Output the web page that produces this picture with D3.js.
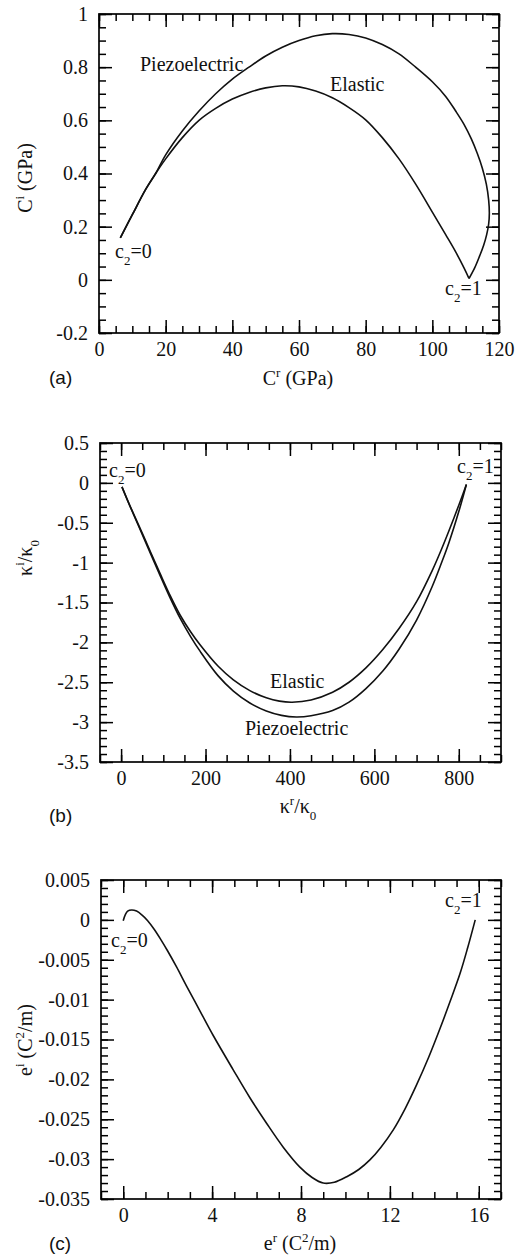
<!DOCTYPE html>
<html>
<head>
<meta charset="utf-8">
<script src="https://cdn.jsdelivr.net/npm/d3@7"></script>
<style>
  body { margin: 0; background: #fff; }
</style>
</head>
<body>
<div id="chart"></div>
<script>
// panel (a): complex stiffness
var aPiezo = [[6.4,0.158],[10,0.245],[14,0.34],[17,0.40],[20,0.47],[25,0.56],[30,0.635],[35,0.70],
  [40,0.755],[45,0.80],[50,0.842],[55,0.875],[60,0.90],[65,0.918],[70,0.926],[75,0.923],[80,0.91],
  [85,0.885],[90,0.85],[95,0.80],[100,0.745],[104,0.69],[107,0.635],[109.5,0.585],[111.7,0.53],
  [113.5,0.475],[115,0.42],[116.2,0.36],[116.9,0.30],[117.1,0.25],[116.9,0.21],[116.3,0.17],
  [115.4,0.13],[114.2,0.09],[112.7,0.045],[111,0.005]];
var aElastic = [[6.4,0.158],[10,0.245],[14,0.34],[17,0.40],[20,0.455],[25,0.535],[30,0.60],[35,0.645],
  [40,0.68],[45,0.705],[50,0.722],[55,0.73],[60,0.726],[65,0.71],[70,0.685],[75,0.648],[80,0.602],
  [85,0.535],[90,0.455],[95,0.36],[100,0.255],[104,0.17],[107,0.105],[109.5,0.045],[111,0.005]];
var aXTicks = [0,20,40,60,80,100,120];
var aYTicks = [-0.2,0,0.2,0.4,0.6,0.8,1];

// panel (b): complex dielectric constant
var bPiezo = [[2,-0.05],[20,-0.28],[45,-0.585],[70,-0.89],[93,-1.17],[115,-1.43],[140,-1.70],[165,-1.93],
  [187,-2.11],[230,-2.42],[266,-2.61],[305,-2.76],[344,-2.86],[380,-2.915],[415,-2.935],[450,-2.92],
  [501,-2.855],[540,-2.75],[580,-2.58],[620,-2.36],[658,-2.09],[700,-1.72],[737,-1.30],[760,-0.99],
  [776,-0.76],[800,-0.36],[818,-0.02]];
var bElastic = [[2,-0.05],[20,-0.275],[45,-0.57],[70,-0.87],[93,-1.145],[115,-1.40],[140,-1.66],[165,-1.87],
  [187,-2.03],[230,-2.30],[266,-2.47],[305,-2.605],[344,-2.695],[375,-2.737],[405,-2.75],[450,-2.722],
  [501,-2.625],[540,-2.50],[580,-2.32],[620,-2.09],[658,-1.83],[700,-1.49],[737,-1.10],[760,-0.82],
  [776,-0.61],[800,-0.28],[818,-0.02]];
var bXTicks = [0,200,400,600,800];
var bYTicks = [-3.5,-3,-2.5,-2,-1.5,-1,-0.5,0,0.5];

// panel (c): complex piezoelectric constant
var cCurve = [[0,-0.0001],[0.1,0.0007],[0.2,0.0011],[0.38,0.00124],[0.6,0.0011],[0.85,0.0006],[1.1,-0.0001],
  [1.4,-0.0012],[1.7,-0.0025],[2.0,-0.0039],[2.4,-0.0059],[2.85,-0.0083],[3.45,-0.0114],[4.05,-0.0145],
  [4.95,-0.0188],[5.7,-0.0223],[6.45,-0.0255],[7.2,-0.0285],[7.95,-0.031],[8.5,-0.0323],[9.0,-0.033],
  [9.5,-0.0329],[10.06,-0.0322],[10.6,-0.0313],[11.1,-0.0301],[11.6,-0.0285],[12.16,-0.0263],[12.7,-0.0236],
  [13.2,-0.0207],[13.75,-0.0172],[14.26,-0.0136],[14.7,-0.0103],[15.16,-0.0067],[15.5,-0.0035],[15.84,0.0]];
var cXTicks = [0,4,8,12,16];
var cYTicks = [-0.035,-0.03,-0.025,-0.02,-0.015,-0.01,-0.005,0,0.005];

var SERIF = "Liberation Serif, Times New Roman, serif";
var INK = "#111";

var svg = d3.select("#chart").append("svg")
  .attr("width", 516).attr("height", 1257);

var fmt = function(d) { return String(+d.toFixed(4)); };

var drawPanel = function(p) {
  var x = d3.scaleLinear().domain(p.xDom).range([p.left, p.right]);
  var y = d3.scaleLinear().domain(p.yDom).range([p.bottom, p.top]);
  var g = svg.append("g");

  g.append("rect")
    .attr("x", p.left).attr("y", p.top)
    .attr("width", p.right - p.left).attr("height", p.bottom - p.top)
    .attr("fill", "none").attr("stroke", INK).attr("stroke-width", 1.8);

  var xMinor = d3.range(p.xDom[0], p.xDom[1] + 1e-9, p.xMinor);
  var yMinor = d3.range(p.yDom[0], p.yDom[1] + 1e-9, p.yMinor);

  // inward ticks on all four sides, through d3 axes
  var sides = [
    [d3.axisBottom(x), "translate(0," + p.bottom + ")", xMinor, p.xTicks],
    [d3.axisTop(x), "translate(0," + p.top + ")", xMinor, p.xTicks],
    [d3.axisLeft(y), "translate(" + p.left + ",0)", yMinor, p.yTicks],
    [d3.axisRight(y), "translate(" + p.right + ",0)", yMinor, p.yTicks]
  ];
  sides.forEach(function(s) {
    [[s[2], -7], [s[3], -13]].forEach(function(t) {
      var a = g.append("g").attr("transform", s[1])
        .call(s[0].tickValues(t[0]).tickSize(t[1]).tickSizeOuter(0).tickFormat(function() { return ""; }));
      a.select(".domain").remove();
      a.selectAll("line").attr("stroke", "#000").attr("stroke-width", 1.5);
    });
  });

  // tick labels through d3 axes (no lines)
  var xa = g.append("g").attr("transform", "translate(0," + p.bottom + ")")
    .call(d3.axisBottom(x).tickValues(p.xTicks).tickSize(0).tickPadding(9).tickFormat(fmt));
  var ya = g.append("g").attr("transform", "translate(" + p.left + ",0)")
    .call(d3.axisLeft(y).tickValues(p.yTicks).tickSize(0).tickPadding(11).tickFormat(fmt));
  [xa, ya].forEach(function(a) {
    a.select(".domain").remove();
    a.selectAll("line").remove();
    a.selectAll("text").attr("font-size", 20).attr("font-family", SERIF).attr("fill", INK);
  });

  var line = d3.line()
    .x(function(d) { return x(d[0]); })
    .y(function(d) { return y(d[1]); })
    .curve(d3.curveCatmullRom.alpha(0.5));
  p.series.forEach(function(s) {
    g.append("path").attr("d", line(s))
      .attr("fill", "none").attr("stroke", INK).attr("stroke-width", 1.6);
  });
};

// parts are [string, "n"|"sup"|"sub"]
var richText = function(sel, parts) {
  var shift = 0;
  parts.forEach(function(pt) {
    var target = pt[1] === "sup" ? -8 : pt[1] === "sub" ? 7 : 0;
    sel.append("tspan")
      .attr("dy", target - shift)
      .attr("font-size", pt[1] === "n" ? 20 : 13)
      .text(pt[0]);
    shift = target;
  });
};
var label = function(x0, y0, parts, anchor) {
  var t = svg.append("text").attr("x", x0).attr("y", y0)
    .attr("font-family", SERIF).attr("font-size", 20).attr("fill", INK)
    .attr("text-anchor", anchor || "start");
  richText(t, parts);
};
var yTitle = function(cx, cy, parts) {
  var t = svg.append("text").attr("transform", "translate(" + cx + "," + cy + ") rotate(-90)")
    .attr("font-family", SERIF).attr("font-size", 20).attr("fill", INK)
    .attr("text-anchor", "middle");
  richText(t, parts);
};
var tag = function(x0, y0, s) {
  svg.append("text").attr("x", x0).attr("y", y0)
    .attr("font-family", "Liberation Sans, Arial, sans-serif")
    .attr("font-size", 19).attr("fill", INK).text(s);
};

// (a)
drawPanel({xDom: [0, 120], yDom: [-0.2, 1], left: 99, right: 499, top: 14, bottom: 333,
  xTicks: aXTicks, yTicks: aYTicks, xMinor: 5, yMinor: 0.05, series: [aPiezo, aElastic]});
label(140, 71, [["Piezoelectric", "n"]]);
label(330, 91, [["Elastic", "n"]]);
label(115, 258, [["c", "n"], ["2", "sub"], ["=0", "n"]]);
label(445, 295, [["c", "n"], ["2", "sub"], ["=1", "n"]]);
label(298, 385, [["C", "n"], ["r", "sup"], [" (GPa)", "n"]], "middle");
yTitle(32, 178, [["C", "n"], ["i", "sup"], [" (GPa)", "n"]]);
tag(49, 384, "(a)");

// (b)
drawPanel({xDom: [-50, 900], yDom: [-3.5, 0.5], left: 100, right: 501, top: 443, bottom: 762,
  xTicks: bXTicks, yTicks: bYTicks, xMinor: 50, yMinor: 0.1, series: [bPiezo, bElastic]});
label(270, 688, [["Elastic", "n"]]);
label(245, 735, [["Piezoelectric", "n"]]);
label(109, 477, [["c", "n"], ["2", "sub"], ["=0", "n"]]);
label(457, 473, [["c", "n"], ["2", "sub"], ["=1", "n"]]);
label(298, 813, [["\u03ba", "n"], ["r", "sup"], ["/\u03ba", "n"], ["0", "sub"]], "middle");
yTitle(32, 558, [["\u03ba", "n"], ["i", "sup"], ["/\u03ba", "n"], ["0", "sub"]]);
tag(49, 822, "(b)");

// (c)
drawPanel({xDom: [-1, 17], yDom: [-0.035, 0.005], left: 101, right: 501, top: 880, bottom: 1199,
  xTicks: cXTicks, yTicks: cYTicks, xMinor: 1, yMinor: 0.001, series: [cCurve]});
label(111, 947, [["c", "n"], ["2", "sub"], ["=0", "n"]]);
label(445, 907, [["c", "n"], ["2", "sub"], ["=1", "n"]]);
label(300, 1250, [["e", "n"], ["r", "sup"], [" (C", "n"], ["2", "sup"], ["/m)", "n"]], "middle");
yTitle(32, 1040, [["e", "n"], ["i", "sup"], [" (C", "n"], ["2", "sup"], ["/m)", "n"]]);
tag(49, 1250, "(c)");
</script>
</body>
</html>
